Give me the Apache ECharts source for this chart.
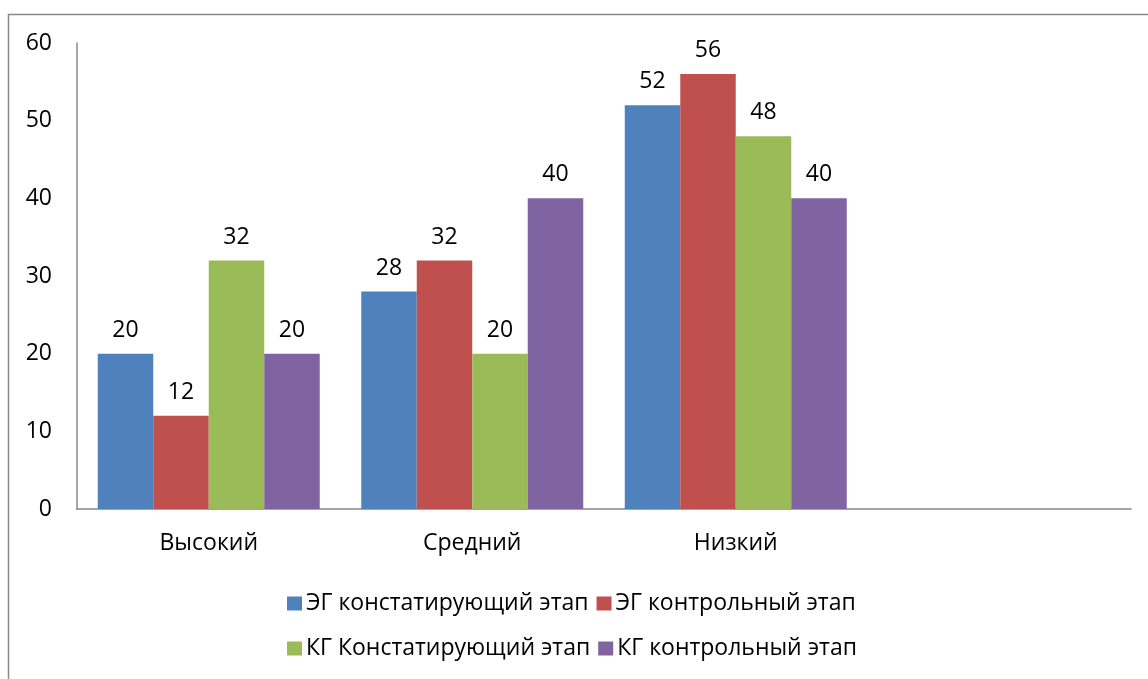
<!DOCTYPE html>
<html>
<head>
<meta charset="utf-8">
<script src="https://cdn.jsdelivr.net/npm/echarts@6/dist/echarts.min.js"></script>
<style>
html,body{margin:0;padding:0;background:#fff;}
#main{width:1148px;height:679px;}
</style>
</head>
<body>
<div id="main"></div>
<script>
const categories = ['Высокий', 'Средний', 'Низкий', ''];
const seriesNames = ['ЭГ констатирующий этап', 'ЭГ контрольный этап', 'КГ Констатирующий этап', 'КГ контрольный этап'];
const egConst = [20, 28, 52, null];
const egControl = [12, 32, 56, null];
const kgConst = [32, 20, 48, null];
const kgControl = [20, 40, 40, null];
const colors = ['#4F81BD', '#C0504D', '#9BBB59', '#8064A2'];
const yTicks = {min: 0, max: 60, interval: 10};

const font = 'Open Sans';
const fs = 23;
const chart = echarts.init(document.getElementById('main'));
const values = [egConst, egControl, kgConst, kgControl];
const legendText = {fontFamily: font, fontSize: fs, color: '#000', padding: [0, 0, 0, -1]};
chart.setOption({
  animation: false,
  graphic: [{
    type: 'rect', shape: {x: 8.5, y: 14.5, width: 1300, height: 900},
    style: {fill: 'none', stroke: '#8a8a8a', lineWidth: 1.5}, silent: true, z: 0
  }],
  grid: {left: 77, right: 17, top: 43, bottom: 170, containLabel: false},
  legend: [
    {data: [seriesNames[0], seriesNames[1]], top: 587, left: 282, itemWidth: 15, itemHeight: 14, itemGap: 8, icon: 'rect', textStyle: legendText},
    {data: [seriesNames[2], seriesNames[3]], top: 632, left: 282, itemWidth: 15, itemHeight: 14, itemGap: 8, icon: 'rect', textStyle: legendText}
  ],
  xAxis: {
    type: 'category', data: categories,
    axisLine: {lineStyle: {color: '#888', width: 1.5}},
    axisTick: {show: false},
    axisLabel: {fontFamily: font, fontSize: fs, color: '#000', margin: 23}
  },
  yAxis: {
    type: 'value', min: yTicks.min, max: yTicks.max, interval: yTicks.interval,
    axisLine: {show: true, lineStyle: {color: '#888', width: 1.5}},
    axisTick: {show: false},
    splitLine: {show: false},
    axisLabel: {fontFamily: font, fontSize: fs, color: '#000', margin: 25}
  },
  series: values.map((v, i) => ({
    name: seriesNames[i], type: 'bar', data: v,
    barGap: '0%', barCategoryGap: '15.75%',
    itemStyle: {color: colors[i]},
    label: {show: true, position: 'top', distance: 12, fontFamily: font, fontSize: fs, color: '#000'}
  }))
});
</script>
</body>
</html>
